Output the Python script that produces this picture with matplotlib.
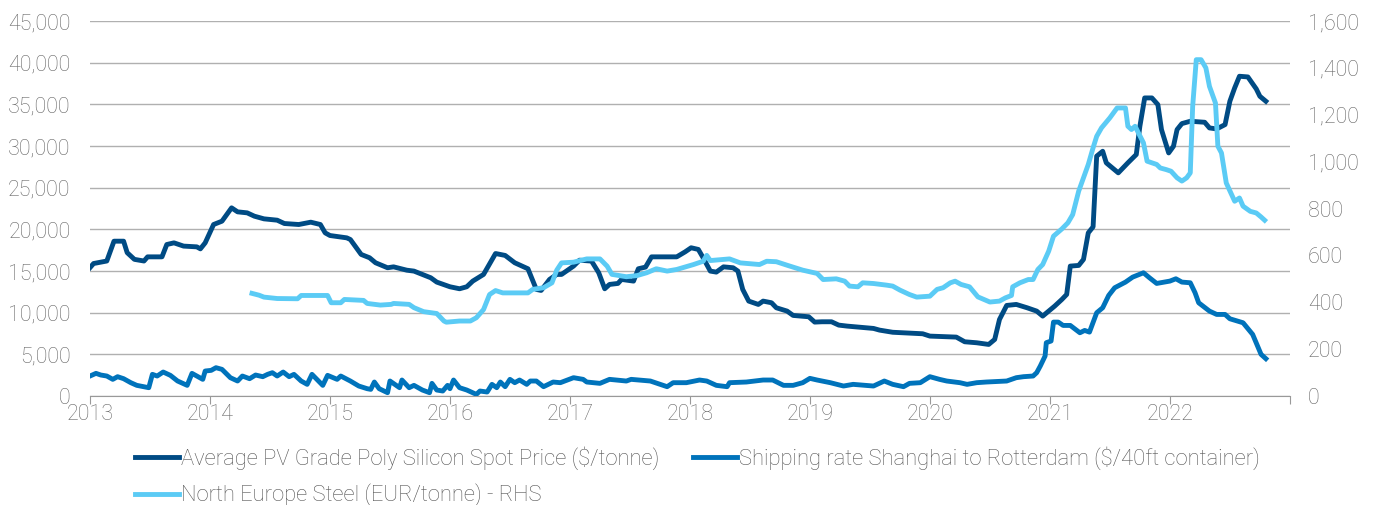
import numpy as np
import matplotlib.pyplot as plt

plt.rcParams['font.family'] = ['Roboto', 'DejaVu Sans']
plt.rcParams['font.weight'] = 'light'

# Average PV grade poly silicon spot price ($/tonne) - left axis
si_year = [2013.0, 2013.03, 2013.14, 2013.2, 2013.28, 2013.31, 2013.37, 2013.45, 2013.48, 2013.6,
           2013.64, 2013.7, 2013.78, 2013.89, 2013.92, 2013.96, 2014.03, 2014.1, 2014.18, 2014.23,
           2014.31, 2014.37, 2014.45, 2014.56, 2014.62, 2014.74, 2014.84, 2014.92, 2014.96, 2015.0,
           2015.14, 2015.17, 2015.26, 2015.33, 2015.38, 2015.48, 2015.53, 2015.64, 2015.7, 2015.84,
           2015.89, 2016.0, 2016.08, 2016.14, 2016.19, 2016.28, 2016.32, 2016.38, 2016.46, 2016.54,
           2016.65, 2016.72, 2016.76, 2016.83, 2016.89, 2016.93, 2017.03, 2017.08, 2017.18, 2017.24,
           2017.29, 2017.33, 2017.4, 2017.43, 2017.53, 2017.57, 2017.63, 2017.68, 2017.89, 2017.96,
           2018.01, 2018.07, 2018.11, 2018.17, 2018.22, 2018.28, 2018.36, 2018.4, 2018.44, 2018.49,
           2018.57, 2018.61, 2018.68, 2018.72, 2018.81, 2018.86, 2018.99, 2019.04, 2019.1, 2019.18,
           2019.24, 2019.31, 2019.53, 2019.58, 2019.69, 2019.94, 2020.0, 2020.22, 2020.29, 2020.39,
           2020.49, 2020.54, 2020.58, 2020.64, 2020.72, 2020.81, 2020.89, 2020.94, 2020.99, 2021.04,
           2021.1, 2021.14, 2021.17, 2021.24, 2021.28, 2021.32, 2021.36, 2021.39, 2021.44, 2021.47,
           2021.57, 2021.65, 2021.72, 2021.75, 2021.79, 2021.85, 2021.9, 2021.93, 2021.99, 2022.03,
           2022.06, 2022.1, 2022.17, 2022.29, 2022.33, 2022.39, 2022.46, 2022.5, 2022.54, 2022.58,
           2022.65, 2022.72, 2022.75, 2022.8]
si_val = [15400, 15900, 16200, 18580, 18580, 17200, 16400, 16200, 16700, 16700,
          18180, 18380, 17990, 17900, 17660, 18380, 20580, 20980, 22580, 22100,
          21980, 21580, 21260, 21100, 20700, 20580, 20860, 20580, 19580, 19260,
          18980, 18780, 16990, 16590, 15990, 15390, 15500, 15100, 14990, 14190,
          13670, 13110, 12870, 13110, 13790, 14590, 15590, 17100, 16870, 15990,
          15270, 12790, 12670, 13990, 14590, 14590, 15590, 16300, 16190, 14790,
          12870, 13390, 13510, 13990, 13790, 15270, 15470, 16700, 16700, 17300,
          17790, 17590, 16590, 14990, 14870, 15500, 15390, 14990, 12790, 11390,
          10990, 11390, 11190, 10590, 10190, 9670, 9510, 8870, 8910, 8910,
          8510, 8390, 8110, 7910, 7650, 7470, 7190, 7070, 6510, 6390,
          6190, 6790, 9190, 10870, 10990, 10590, 10190, 9590, 10190, 10790,
          11590, 12190, 15590, 15670, 16390, 19580, 20300, 28780, 29370, 27980,
          26780, 27980, 28980, 32370, 35770, 35770, 34970, 31970, 29170, 29970,
          31970, 32690, 32970, 32850, 32170, 32050, 32570, 35370, 36970, 38370,
          38290, 36850, 35970, 35370]

# Shipping rate Shanghai to Rotterdam ($/40ft container) - left axis
sh_year = [2013.0, 2013.05, 2013.09, 2013.14, 2013.19, 2013.23, 2013.28, 2013.34, 2013.39, 2013.45,
           2013.49, 2013.52, 2013.56, 2013.61, 2013.67, 2013.73, 2013.81, 2013.85, 2013.94, 2013.96,
           2014.01, 2014.05, 2014.1, 2014.17, 2014.23, 2014.27, 2014.33, 2014.38, 2014.44, 2014.48,
           2014.52, 2014.56, 2014.61, 2014.66, 2014.7, 2014.76, 2014.81, 2014.85, 2014.94, 2014.98,
           2015.06, 2015.09, 2015.17, 2015.24, 2015.31, 2015.34, 2015.37, 2015.41, 2015.48, 2015.5,
           2015.58, 2015.6, 2015.66, 2015.7, 2015.77, 2015.83, 2015.85, 2015.89, 2015.94, 2015.98,
           2016.0, 2016.03, 2016.08, 2016.14, 2016.22, 2016.25, 2016.31, 2016.35, 2016.39, 2016.42,
           2016.46, 2016.5, 2016.54, 2016.58, 2016.64, 2016.67, 2016.72, 2016.78, 2016.86, 2016.92,
           2017.03, 2017.11, 2017.14, 2017.25, 2017.33, 2017.47, 2017.51, 2017.67, 2017.81, 2017.86,
           2017.97, 2018.08, 2018.14, 2018.22, 2018.31, 2018.33, 2018.47, 2018.61, 2018.69, 2018.78,
           2018.86, 2018.94, 2019.0, 2019.06, 2019.17, 2019.28, 2019.36, 2019.53, 2019.62, 2019.69,
           2019.78, 2019.83, 2019.92, 2020.0, 2020.08, 2020.14, 2020.25, 2020.31, 2020.39, 2020.47,
           2020.64, 2020.72, 2020.78, 2020.86, 2020.89, 2020.92, 2020.96, 2020.97, 2021.01, 2021.03,
           2021.07, 2021.11, 2021.17, 2021.25, 2021.29, 2021.33, 2021.39, 2021.44, 2021.49, 2021.54,
           2021.63, 2021.69, 2021.78, 2021.83, 2021.89, 2022.0, 2022.05, 2022.1, 2022.17, 2022.21,
           2022.24, 2022.33, 2022.39, 2022.46, 2022.5, 2022.61, 2022.69, 2022.76, 2022.8]
sh_val = [2400, 2720, 2520, 2400, 2000, 2320, 2080, 1600, 1280, 1120,
          1000, 2600, 2400, 2880, 2480, 1800, 1280, 2720, 2000, 3000,
          3080, 3400, 3200, 2200, 1800, 2400, 2080, 2520, 2320, 2600,
          2800, 2400, 2880, 2320, 2600, 1800, 1400, 2600, 1280, 2480,
          2000, 2400, 1800, 1200, 880, 800, 1680, 880, 400, 1800,
          1000, 1920, 1000, 1280, 720, 400, 1520, 720, 600, 1280,
          880, 1920, 1000, 720, 200, 600, 480, 1400, 1000, 1680,
          1120, 2000, 1600, 1920, 1400, 1800, 1800, 1120, 1680, 1600,
          2200, 2000, 1680, 1520, 2000, 1800, 2000, 1800, 1120, 1600,
          1600, 1920, 1800, 1280, 1120, 1600, 1680, 1920, 1920, 1280,
          1280, 1600, 2120, 1920, 1600, 1200, 1400, 1200, 1800, 1400,
          1120, 1520, 1600, 2320, 2000, 1800, 1600, 1400, 1600, 1680,
          1800, 2200, 2320, 2400, 2800, 3600, 4800, 6400, 6600, 8870,
          8870, 8470, 8470, 7590, 7870, 7670, 9990, 10590, 12070, 12990,
          13670, 14270, 14790, 14190, 13510, 13790, 14070, 13670, 13590, 12390,
          11190, 10190, 9790, 9790, 9270, 8790, 7390, 5000, 4480]

# North Europe steel (EUR/tonne) - right axis
st_year = [2014.35, 2014.41, 2014.45, 2014.56, 2014.73, 2014.76, 2014.98, 2015.01, 2015.09, 2015.12,
           2015.28, 2015.31, 2015.42, 2015.51, 2015.53, 2015.66, 2015.7, 2015.78, 2015.89, 2015.95,
           2015.97, 2016.08, 2016.17, 2016.22, 2016.28, 2016.33, 2016.38, 2016.44, 2016.65, 2016.69,
           2016.78, 2016.85, 2016.89, 2016.93, 2017.03, 2017.14, 2017.25, 2017.31, 2017.35, 2017.47,
           2017.56, 2017.64, 2017.72, 2017.81, 2017.89, 2018.03, 2018.11, 2018.14, 2018.17, 2018.33,
           2018.42, 2018.58, 2018.64, 2018.72, 2018.81, 2018.94, 2019.06, 2019.11, 2019.22, 2019.29,
           2019.33, 2019.4, 2019.44, 2019.53, 2019.64, 2019.69, 2019.75, 2019.83, 2019.89, 2020.0,
           2020.06, 2020.11, 2020.17, 2020.21, 2020.26, 2020.33, 2020.4, 2020.5, 2020.58, 2020.63,
           2020.68, 2020.69, 2020.75, 2020.82, 2020.86, 2020.9, 2020.94, 2020.99, 2021.03, 2021.1,
           2021.15, 2021.19, 2021.24, 2021.28, 2021.32, 2021.36, 2021.39, 2021.43, 2021.5, 2021.56,
           2021.63, 2021.65, 2021.68, 2021.71, 2021.78, 2021.81, 2021.85, 2021.89, 2021.92, 2021.97,
           2022.01, 2022.06, 2022.1, 2022.14, 2022.17, 2022.19, 2022.22, 2022.26, 2022.3, 2022.33,
           2022.38, 2022.4, 2022.43, 2022.47, 2022.54, 2022.58, 2022.61, 2022.67, 2022.72, 2022.76,
           2022.79]
st_val = [438, 430, 422, 416, 415, 429, 429, 398, 398, 412,
          408, 395, 388, 391, 395, 391, 377, 360, 352, 320,
          315, 320, 320, 334, 369, 433, 450, 440, 440, 455,
          462, 483, 537, 568, 571, 585, 585, 554, 519, 509,
          514, 526, 543, 533, 540, 561, 575, 600, 578, 585,
          568, 561, 575, 573, 558, 537, 523, 497, 500, 490,
          469, 466, 483, 480, 473, 469, 452, 433, 422, 426,
          455, 462, 483, 490, 476, 466, 423, 401, 405, 419,
          429, 466, 483, 497, 497, 540, 561, 618, 682, 713,
          739, 774, 874, 931, 988, 1059, 1108, 1144, 1187, 1229,
          1229, 1151, 1137, 1151, 1080, 1002, 995, 988, 973, 966,
          959, 931, 917, 931, 952, 1236, 1435, 1435, 1400, 1321,
          1250, 1066, 1037, 909, 831, 845, 810, 788, 781, 764,
          750]

series_labels = ['Average PV Grade Poly Silicon Spot Price ($/tonne)',
                 'Shipping rate Shanghai to Rotterdam ($/40ft container)',
                 'North Europe Steel (EUR/tonne) - RHS']
years = list(range(2013, 2024))
year_labels = [str(y) for y in range(2013, 2023)] + ['']

c_si = '#004b84'
c_sh = '#0073bb'
c_st = '#5bcbf5'
txt = '#666666'

fig = plt.figure(figsize=(13.76, 5.05), dpi=100)
ax = fig.add_axes([0.0654, 0.2158, 0.872, 0.7426])
ax2 = ax.twinx()

l1, = ax.plot(si_year, si_val, color=c_si, lw=3.5, solid_joinstyle='round', zorder=3)
l2, = ax.plot(sh_year, sh_val, color=c_sh, lw=3.5, solid_joinstyle='round', zorder=3)
l3, = ax2.plot(st_year, st_val, color=c_st, lw=3.5, solid_joinstyle='round', zorder=2)

ax.set_xlim(2013, 2023)
ax.set_ylim(0, 45000)
ax2.set_ylim(0, 1600)
ax.set_yticks(np.arange(0, 45001, 5000))
ax.set_yticklabels([f'{v:,}' for v in range(0, 45001, 5000)])
ax2.set_yticks(np.arange(0, 1601, 200))
ax2.set_yticklabels([f'{v:,}' for v in range(0, 1601, 200)])
ax.set_xticks(years)
ax.set_xticklabels(year_labels)

ax.grid(axis='y', color='#b0b0b0', lw=1)
ax.set_axisbelow(True)
for a in (ax, ax2):
    for s in ('top', 'left', 'right', 'bottom'):
        a.spines[s].set_visible(False)
ax.spines['bottom'].set_visible(True)
ax.spines['bottom'].set_color('#999999')

ax.tick_params(axis='y', length=0, pad=14, labelsize=15.5, labelcolor=txt)
ax2.tick_params(axis='y', length=0, pad=13, labelsize=15.5, labelcolor=txt)
ax.tick_params(axis='x', length=6, color='#999999', pad=0, labelsize=15.5, labelcolor=txt)

# order so that rows read: silicon, shipping / steel
fig.legend([l1, l3, l2], [series_labels[0], series_labels[2], series_labels[1]],
           loc='upper left', bbox_to_anchor=(0.098, 0.116),
           ncol=2, frameon=False, fontsize=15.8, handlelength=2.0, handletextpad=0.1,
           columnspacing=1.55, labelcolor='#555555', labelspacing=0.62, borderaxespad=0,
           borderpad=0)

fig.savefig('out.png', dpi=100)
